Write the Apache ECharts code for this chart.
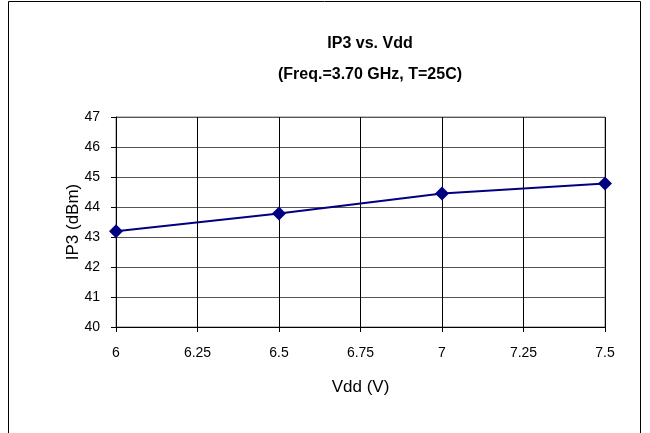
<!DOCTYPE html>
<html><head><meta charset="utf-8">
<script src="https://cdn.jsdelivr.net/npm/echarts@6/dist/echarts.min.js"></script>
<style>html,body{margin:0;padding:0;background:#fff}#c{width:650px;height:433px}</style>
</head><body><div id="c"></div>
<script>
const vdd = [6, 6.5, 7, 7.5];
const ip3 = [43.19, 43.78, 44.45, 44.78];
const titleText = 'IP3 vs. Vdd\n(Freq.=3.70 GHz, T=25C)';
const xName = 'Vdd (V)';
const yName = 'IP3 (dBm)';

const chart = echarts.init(document.getElementById('c'), null, {renderer: 'canvas'});
const F = 'Liberation Sans, Arial, sans-serif';
chart.setOption({
  animation: false,
  graphic: [{type: 'rect', shape: {x: 8.5, y: 1.5, width: 632, height: 440}, style: {fill: 'none', stroke: '#000', lineWidth: 1}, silent: true}],
  title: {text: titleText, left: 365, top: 23, textAlign: 'center',
    textStyle: {fontFamily: F, fontSize: 16, fontWeight: 'bold', color: '#000', lineHeight: 31}},
  grid: {left: 116, right: 45, top: 117, bottom: 106, show: true, borderColor: '#808080', borderWidth: 1},
  xAxis: {type: 'value', min: 6, max: 7.5, interval: 0.25, name: xName, nameLocation: 'middle', nameGap: 52,
    nameMoveOverlap: false,
    nameTextStyle: {fontFamily: F, fontSize: 17, color: '#000'},
    axisLine: {show: true, onZero: false, lineStyle: {color: '#000', width: 1}},
    axisTick: {show: true, length: 5, lineStyle: {color: '#000'}},
    axisLabel: {fontFamily: F, fontSize: 14, color: '#000', margin: 19},
    splitLine: {show: true, lineStyle: {color: '#000', width: 1}}},
  yAxis: {type: 'value', min: 40, max: 47, interval: 1, name: yName, nameLocation: 'middle', nameGap: 34,
    nameMoveOverlap: false,
    nameTextStyle: {fontFamily: F, fontSize: 17, color: '#000'},
    axisLine: {show: true, onZero: false, lineStyle: {color: '#000', width: 1}},
    axisTick: {show: true, length: 5, lineStyle: {color: '#000'}},
    axisLabel: {fontFamily: F, fontSize: 14, color: '#000', margin: 16},
    splitLine: {show: true, lineStyle: {color: '#555', width: 1}}},
  series: [{type: 'line', data: vdd.map((v, i) => [v, ip3[i]]),
    symbol: 'diamond', symbolSize: 14, lineStyle: {color: '#000080', width: 2},
    itemStyle: {color: '#000080'}}]
});
</script></body></html>
